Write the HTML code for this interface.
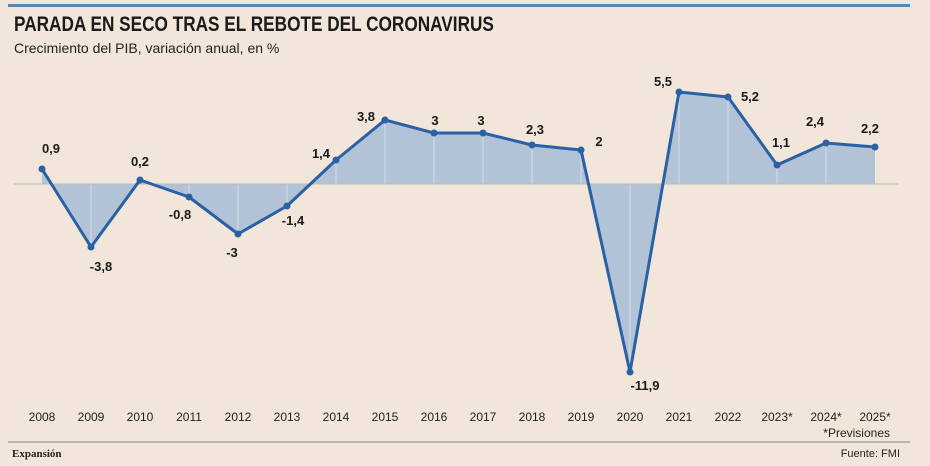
<!DOCTYPE html>
<html><head><meta charset="utf-8"><style>
body{margin:0;background:#f2e6da;}
svg{display:block}
text{font-family:"Liberation Sans",sans-serif}
</style></head><body>
<svg width="930" height="466" xmlns="http://www.w3.org/2000/svg">
<rect width="930" height="466" fill="#f2e6da"/>
<rect x="8" y="4" width="902" height="3" fill="#5a86b4"/>
<text x="14" y="31" font-size="21" font-weight="bold" fill="#1a1a1a" transform="scale(0.82,1)" style="transform-origin:14px 0">PARADA EN SECO TRAS EL REBOTE DEL CORONAVIRUS</text>
<text x="14" y="53" font-size="14" fill="#222">Crecimiento del PIB, variación anual, en %</text>
<polygon fill="#b2c3d8" points="42,184 42,169 91,247 140,180 189,197 238,234 287,206 336,160 385,120 434,133 483,133 532,145 581,150 630,372 679,92 728,97 777,165 826,143 875,147 875,184"/>
<g stroke="#d8dee6" stroke-width="1">
<line x1="91" y1="184" x2="91" y2="247"/><line x1="140" y1="184" x2="140" y2="180"/><line x1="189" y1="184" x2="189" y2="197"/><line x1="238" y1="184" x2="238" y2="234"/><line x1="287" y1="184" x2="287" y2="206"/><line x1="336" y1="184" x2="336" y2="160"/><line x1="385" y1="184" x2="385" y2="120"/><line x1="434" y1="184" x2="434" y2="133"/><line x1="483" y1="184" x2="483" y2="133"/><line x1="532" y1="184" x2="532" y2="145"/><line x1="581" y1="184" x2="581" y2="150"/><line x1="630" y1="184" x2="630" y2="372"/><line x1="679" y1="184" x2="679" y2="92"/><line x1="728" y1="184" x2="728" y2="97"/><line x1="777" y1="184" x2="777" y2="165"/><line x1="826" y1="184" x2="826" y2="143"/>
</g>
<line x1="14" y1="184" x2="898" y2="184" stroke="#bbb" stroke-width="1"/>
<polyline fill="none" stroke="#2a60a4" stroke-width="3" stroke-linejoin="round" points="42,169 91,247 140,180 189,197 238,234 287,206 336,160 385,120 434,133 483,133 532,145 581,150 630,372 679,92 728,97 777,165 826,143 875,147"/>
<g fill="#2a60a4">
<circle cx="42" cy="169" r="3.5"/><circle cx="91" cy="247" r="3.5"/><circle cx="140" cy="180" r="3.5"/><circle cx="189" cy="197" r="3.5"/><circle cx="238" cy="234" r="3.5"/><circle cx="287" cy="206" r="3.5"/><circle cx="336" cy="160" r="3.5"/><circle cx="385" cy="120" r="3.5"/><circle cx="434" cy="133" r="3.5"/><circle cx="483" cy="133" r="3.5"/><circle cx="532" cy="145" r="3.5"/><circle cx="581" cy="150" r="3.5"/><circle cx="630" cy="372" r="3.5"/><circle cx="679" cy="92" r="3.5"/><circle cx="728" cy="97" r="3.5"/><circle cx="777" cy="165" r="3.5"/><circle cx="826" cy="143" r="3.5"/><circle cx="875" cy="147" r="3.5"/>
</g>
<g font-size="13" font-weight="bold" fill="#1a1a1a" text-anchor="middle">
<text x="51" y="153">0,9</text><text x="101" y="271">-3,8</text><text x="140" y="166">0,2</text><text x="180" y="219">-0,8</text><text x="232" y="257">-3</text><text x="293" y="225">-1,4</text><text x="321" y="158">1,4</text><text x="366" y="121">3,8</text><text x="435" y="125">3</text><text x="481" y="125">3</text><text x="535" y="134">2,3</text><text x="599" y="146">2</text><text x="645" y="390">-11,9</text><text x="663" y="86">5,5</text><text x="750" y="101">5,2</text><text x="781" y="147">1,1</text><text x="815" y="126">2,4</text><text x="870" y="133">2,2</text>
</g>
<g font-size="12" fill="#222" text-anchor="middle">
<text x="42" y="421">2008</text><text x="91" y="421">2009</text><text x="140" y="421">2010</text><text x="189" y="421">2011</text><text x="238" y="421">2012</text><text x="287" y="421">2013</text><text x="336" y="421">2014</text><text x="385" y="421">2015</text><text x="434" y="421">2016</text><text x="483" y="421">2017</text><text x="532" y="421">2018</text><text x="581" y="421">2019</text><text x="630" y="421">2020</text><text x="679" y="421">2021</text><text x="728" y="421">2022</text><text x="777" y="421">2023*</text><text x="826" y="421">2024*</text><text x="875" y="421">2025*</text>
</g>
<text x="890" y="437" font-size="12" fill="#222" text-anchor="end">*Previsiones</text>
<line x1="8" y1="442" x2="910" y2="442" stroke="#8a8580" stroke-width="1"/>
<text x="12" y="457" font-size="11" font-weight="bold" font-family="Liberation Serif" fill="#222" style="font-family:'Liberation Serif',serif">Expansión</text>
<text x="900" y="457" font-size="11" fill="#222" text-anchor="end">Fuente: FMI</text>
</svg>
</body></html>
